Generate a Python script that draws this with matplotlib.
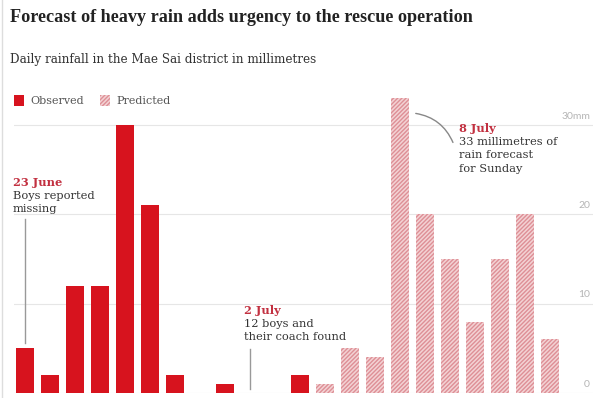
import matplotlib
matplotlib.use("Agg")
import matplotlib.pyplot as plt
from matplotlib.patches import Rectangle

observed = [5, 2, 12, 12, 30, 21, 2, 0, 1, 0, 0, 2]
predicted = [1, 5, 4, 33, 20, 15, 8, 15, 20, 6]
ticks = [0, 10, 20, 30]
tick_labels = ["0", "10", "20", "30mm"]

RED = "#d7131e"
HATCH = "#de8f96"
HFACE = "#f3d2d4"
DATE = "#c23040"
TEXT = "#333333"
SERIF = "DejaVu Serif"

plt.rcParams["hatch.linewidth"] = 1.0

W, H = 600, 398
fig = plt.figure(figsize=(6, 3.98), dpi=100)

def P(x, y):
    return (x / W, 1 - y / H)

ax = fig.add_axes([14 / W, (H - 393) / H, 579 / W, 303.6 / H])
ax.set_xlim(-0.44, 22.72)
ax.set_ylim(0, 34)
for s in ax.spines.values():
    s.set_visible(False)
ax.set_xticks([])
ax.set_yticks([])
for t in ticks:
    ax.axhline(t, color="#e6e6e6", lw=0.8, zorder=0)

xo = list(range(len(observed)))
xp = list(range(len(observed), len(observed) + len(predicted)))
ax.bar(xo, observed, width=0.72, color=RED, linewidth=0, zorder=2)
ax.bar(xp, predicted, width=0.72, facecolor=HFACE, edgecolor=HATCH,
       hatch="////////", linewidth=0, zorder=2)

for t, lab in zip(ticks, tick_labels):
    ax.text(22.6, t + 1.0, lab, ha="right", va="center", fontsize=7.5,
            color="#b5b5b5", family="Lato", zorder=3)

fig.text(*P(10, 17), "Forecast of heavy rain adds urgency to the rescue operation",
         fontsize=13.1, fontweight="bold", family="Liberation Serif", color="#222222",
         va="center", ha="left")
fig.text(*P(10, 60), "Daily rainfall in the Mae Sai district in millimetres",
         fontsize=8.65, family=SERIF, color=TEXT, va="center", ha="left")

fig.patches.append(Rectangle(P(14, 106), 10 / W, 11 / H, transform=fig.transFigure,
                             facecolor=RED, linewidth=0))
fig.patches.append(Rectangle(P(100, 106), 10 / W, 11 / H, transform=fig.transFigure,
                             facecolor=HFACE, edgecolor=HATCH, hatch="////////",
                             linewidth=0))
fig.text(*P(30, 101), "Observed", fontsize=8, family=SERIF, color="#555555",
         va="center", ha="left")
fig.text(*P(116, 101), "Predicted", fontsize=8, family=SERIF, color="#555555",
         va="center", ha="left")

fig.add_artist(plt.Line2D([1.5 / W, 1.5 / W], [0, 1], transform=fig.transFigure,
                          color="#dddddd", lw=1))

def note(x, y, date, lines):
    fig.text(*P(x, y), date, fontsize=8.2, fontweight="bold", family=SERIF,
             color=DATE, va="center", ha="left")
    for i, line in enumerate(lines):
        fig.text(*P(x, y + 14 + 13.5 * i), line, fontsize=8.2, family=SERIF,
                 color=TEXT, va="center", ha="left")

PX = 8.93
note(13, 182, "23 June", ["Boys reported", "missing"])
ax.plot([0, 0], [(393 - 343) / PX, (393 - 219) / PX], color="#999999", lw=1, zorder=3)

note(244, 310, "2 July", ["12 boys and", "their coach found"])
ax.plot([9, 9], [(393 - 389) / PX, (393 - 349) / PX], color="#999999", lw=1, zorder=3)

note(459, 128, "8 July", ["33 millimetres of", "rain forecast", "for Sunday"])
ax.annotate("", xy=((413 - 25) / 25, (393 - 113) / PX),
            xytext=((454 - 25) / 25, (393 - 145) / PX),
            arrowprops=dict(arrowstyle="-", color="#888888", lw=1,
                            connectionstyle="arc3,rad=0.3"))

fig.savefig("out.png", dpi=100, facecolor="white")
